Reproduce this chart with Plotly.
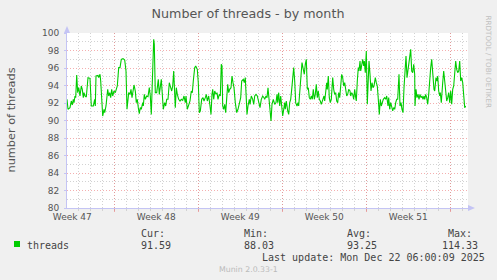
import pandas as pd
import plotly.graph_objects as go

# ---------------- data ----------------
START = pd.Timestamp("2025-11-19 01:24")
RANGE_HOURS = 802

hours_since_start = [
    0, 2, 6, 8.6, 10.6, 12.6, 14, 16, 17.4, 19.4, 21.4, 23.4, 24.6, 26, 28.6, 30.6, 32.6, 34, 36, 38.6,
    42, 46, 48.6, 52.6, 55.4, 56.6, 58, 62, 63.4, 66, 67.4, 68.6, 71.4, 74, 75.4, 78, 79.4, 81.4, 83.4,
    85.4, 87.4, 89.4, 91.4, 94, 96.6, 99.4, 100.6, 103.4, 106, 108.6, 112, 114,
    115.4, 118, 120, 123.4, 126, 128, 130, 134, 136.6, 138.6, 140.6, 142.6, 144.6, 146.6, 148.6, 151.4,
    152.6, 154.6, 156.6, 159.4, 162, 164.6, 166.6, 168.6, 170.6, 173.4, 174.6, 176.6, 179.4, 181.4,
    182.6, 184.6, 187.4, 188.6, 192.6, 195.4, 197.4, 199.4, 202, 204.6, 207.4, 209.4, 211.4, 213.4,
    216.6, 218.6, 220.6, 223.4, 226, 228.6,
    231.4, 234, 236.6, 238, 240.6, 243.4, 246, 248.6, 250.6, 252.6, 255.4, 257.4, 260.6, 262.6, 264.6,
    266.6, 269.4, 272, 274, 276.6, 278.6, 280.6, 283.4, 286, 288, 290, 291.4, 293.4, 295.4, 298, 300,
    302, 304.6, 306.6, 308.6, 310, 311.4, 313.4, 315.4, 317.4, 319.4, 321.4, 323.4, 325.4, 328, 330,
    332, 334, 336.6, 339.4, 342, 344.6,
    347.4, 349.4, 352.6, 354.6, 356.6, 358, 360, 362, 364.6, 366, 368.6, 371.4, 373.4, 375.4, 378,
    380.6, 383.4, 386, 388.6, 391.4, 394, 395.4, 398, 400, 402, 404, 406, 408, 410, 412.6, 415.4, 418,
    420, 421.4, 423.4, 425.4, 427.4, 429.4, 431.4, 433.4, 435.4, 436.6, 438.6, 441.4, 443.4, 445.4,
    447.4, 449.4, 451.4, 453.4, 455.4, 457.4, 460,
    462, 463.4, 465.4, 468, 470, 472.6, 474.6, 476.6, 478.6, 480.6, 482.6, 484.6, 486.6, 488.6, 490.6,
    492.6, 494.6, 496.6, 498.6, 500.6, 502.6, 504.6, 506.6, 508.6, 511.4, 514, 515.4, 517.4, 519.4,
    520.6, 522.6, 524.6, 526.6, 528.6, 531.4, 533.4, 535.4, 537.4, 539.4, 541.4, 543.4, 545.4, 547.4,
    549.4, 551.4, 553.4, 555.4, 557.4, 559.4, 561.4, 563.4, 566, 567.4, 569.4, 571.4, 573.4, 575.4, 577.4,
    578.6, 580.6, 582.6, 584, 586, 587.4, 588.6, 591.4, 593.4, 594.6, 596.6, 598.6, 600.6, 602.6, 604,
    606, 608, 610, 612, 614, 616.6, 618.6, 620.6, 622.6, 624.6, 626.6, 628.6, 630.6, 632.6, 635.4,
    637.4, 639.4, 642, 643.4, 645.4, 647.4, 649.4, 651.4, 653.4, 655.4, 657.4, 659.4, 661.4, 664, 666,
    668, 670, 672, 674, 676, 678, 680, 682, 684.6, 687.4, 689.4, 691.4, 693.4,
    695.4, 696, 698, 700, 702, 704, 706, 708, 710, 712, 714, 715.4, 717.4, 719.4, 721.4, 723.4, 725.4,
    727.4, 729.4, 731.4, 734, 735.4, 738, 740, 741.4, 743.4, 745.4, 746.6, 748.6, 751.4, 753.4, 755.4,
    757.4, 759.4, 761.4, 763.4, 765.4, 767.4, 769.4, 771.4, 773.4, 775.4, 777.4, 779.4, 781.4, 783.4,
    785.4, 787.4, 789.4, 791.4, 793.4, 795.4, 797.4,
]

threads = [
    92.42, 91.28, 91.47, 92.23, 91.77, 92.42, 92.04, 92.80, 92.61, 95.20, 93.18, 93.75, 93.37, 92.80,
    93.94, 93.56, 92.61, 93.18, 92.80, 92.69, 94.90, 94.82, 91.66, 91.66, 92.42, 91.66, 95.09, 95.16,
    94.90, 95.28, 94.51, 93.18, 90.51, 91.28, 90.90, 91.66, 92.23, 93.56, 92.80, 93.18, 92.61, 93.56,
    92.80, 93.37, 93.18, 93.56, 93.94, 96.04, 96.04, 96.99, 97.07, 96.99,
    96.91, 95.66, 91.28, 93.18, 92.99, 93.56, 92.61, 94.06, 93.37, 92.04, 92.42, 91.47, 90.78, 91.47,
    91.28, 92.04, 91.66, 92.99, 92.42, 92.80, 92.72, 93.75, 92.80, 90.70, 93.75, 99.28, 98.70, 93.18,
    93.18, 94.51, 94.70, 92.99, 94.51, 94.70, 91.28, 92.04, 91.66, 92.42, 92.42, 94.32, 93.75, 93.37,
    93.94, 95.66, 91.47, 93.75, 92.99, 92.42, 92.23, 92.42,
    92.30, 92.80, 92.04, 92.80, 91.28, 91.85, 92.23, 93.37, 93.18, 94.51, 96.04, 96.23, 95.85, 94.32,
    90.90, 91.09, 92.42, 92.61, 92.23, 92.61, 92.99, 92.23, 92.80, 91.66, 90.70, 92.99, 93.56, 92.42,
    93.37, 92.99, 93.18, 92.42, 92.99, 92.80, 96.42, 96.23, 91.66, 91.28, 91.85, 90.90, 92.61, 94.13,
    93.18, 93.56, 93.75, 95.09, 94.32, 93.75, 92.04, 90.90, 91.28, 92.04,
    92.61, 94.51, 94.70, 94.32, 94.90, 93.18, 90.70, 91.66, 92.42, 91.85, 92.80, 92.42, 91.85, 92.80,
    92.99, 92.80, 92.23, 91.47, 92.42, 92.80, 92.61, 92.42, 92.80, 92.61, 93.75, 92.61, 91.66, 89.94,
    91.85, 92.42, 91.85, 92.04, 92.99, 92.04, 93.18, 91.66, 92.80, 91.47, 90.51, 91.28, 92.04, 91.28,
    92.23, 91.09, 90.70, 92.04, 92.42, 93.56, 95.28, 96.04, 94.51, 92.04, 91.66,
    92.04, 91.66, 93.18, 95.09, 96.61, 95.85, 95.28, 96.42, 96.99, 93.56, 93.75, 92.61, 92.42, 92.80,
    92.42, 93.56, 92.42, 92.99, 94.13, 92.61, 93.37, 92.42, 92.23, 91.85, 92.42, 92.80, 92.23, 93.18,
    94.32, 93.56, 95.09, 92.61, 92.04, 92.42, 94.90, 93.56, 92.99, 93.18, 92.23, 92.04, 93.18, 92.61,
    93.75, 95.28, 94.90, 93.94, 94.32, 93.18, 92.80, 92.99, 93.56, 93.37, 92.80, 93.18, 92.99, 92.42,
    93.56, 92.61,
    92.23, 94.51, 96.04, 95.66, 96.80, 95.66, 96.04, 96.99, 96.23, 96.80, 95.47, 97.94, 91.85, 95.66,
    96.80, 95.28, 93.37, 94.32, 93.75, 93.94, 94.90, 94.32, 93.94, 92.42, 90.70, 92.42, 91.66, 92.04,
    92.42, 92.61, 92.42, 92.80, 91.66, 92.61, 91.28, 92.04, 91.47, 91.09, 91.47, 91.28, 92.04, 92.42,
    92.42, 95.28, 91.66, 92.04, 91.28, 90.90, 93.75, 96.23, 97.37, 94.90, 95.66, 96.80, 98.13, 95.66,
    95.47, 96.42,
    95.28, 91.66, 93.56, 92.61, 92.99, 92.42, 92.99, 92.61, 92.80, 92.42, 92.80, 92.42, 92.99, 92.61,
    91.85, 92.99, 94.90, 96.04, 96.99, 95.28, 93.56, 93.37, 94.90, 94.51, 95.09, 93.37, 92.80, 93.18,
    92.04, 94.32, 95.66, 94.51, 92.80, 92.23, 92.61, 93.18, 92.04, 93.37, 91.85, 93.56, 93.94, 95.47,
    96.80, 95.85, 95.47, 95.66, 96.80, 94.51, 94.90, 94.32, 92.04, 91.47, 91.66,
]

series_name = "threads"
stat_labels = ["Cur:", "Min:", "Avg:", "Max:"]
stat_values = ["91.59", "88.03", "93.25", "114.33"]
last_update = "Last update: Mon Dec 22 06:00:09 2025"
title_text = "Number of threads - by month"
y_title = "number of threads"
watermark = "RRDTOOL / TOBI OETIKER"
footer = "Munin 2.0.33-1"

# ---------------- figure ----------------
W, H = 497, 280
L, R, T, B = 67, 468, 33, 208  # plot area in pixels

def px_x(px):
    return (px - L) / (R - L)

def px_y(py):
    return (B - py) / (B - T)

times = START + pd.to_timedelta(hours_since_start, unit="h")
x_end = START + pd.Timedelta(hours=RANGE_HOURS)

GREEN = "#00cc00"
TXT = "#555555"
AXIS = "#c4c4f4"
MGRID = "rgba(235,110,110,0.55)"
GRID = "#d2d2d2"
DAY = 86400000
WEEK = 7 * DAY

fig = go.Figure()
fig.add_trace(go.Scatter(x=times, y=threads, mode="lines",
                         line=dict(color=GREEN, width=1.1), hoverinfo="skip",
                         showlegend=False))
fig.add_trace(go.Scatter(x=[], y=[], xaxis="x2", showlegend=False, hoverinfo="skip"))

fig.update_layout(
    width=W, height=H,
    margin=dict(l=L, r=W - R, t=T, b=H - B, pad=0),
    paper_bgcolor="#f0f0f0", plot_bgcolor="#ffffff",
    font=dict(family="DejaVu Sans", size=9, color=TXT),
    title=dict(text=title_text, x=0.499, xanchor="center", y=1 - 14 / H, yanchor="middle",
               font=dict(family="DejaVu Sans", size=12.7, color=TXT)),
    xaxis=dict(
        type="date", range=[START, x_end],
        tickmode="linear", tick0="2025-11-19 12:00:00", dtick=WEEK, tickformat="Week %V",
        showgrid=False, zeroline=False, ticks="",
        showline=True, linecolor=AXIS, linewidth=1,
        tickfont=dict(family="DejaVu Sans", size=9, color=TXT),
        minor=dict(tick0="2025-11-23", dtick=DAY, showgrid=True, gridcolor=GRID,
                   griddash="1px,2px", gridwidth=1, ticks="outside", ticklen=2, tickcolor=GRID),
    ),
    xaxis2=dict(
        type="date", range=[START, x_end], overlaying="x", anchor="y", side="bottom",
        tickmode="linear", tick0="2025-11-23", dtick=WEEK,
        showticklabels=False, showgrid=True, gridcolor=MGRID, griddash="1px,2px", gridwidth=1,
        ticks="outside", ticklen=3, tickcolor=MGRID, zeroline=False, showline=False,
    ),
    yaxis=dict(
        range=[80, 100], tickmode="linear", tick0=80, dtick=2,
        showgrid=True, gridcolor=MGRID, griddash="1px,2px", gridwidth=1,
        zeroline=False, showline=True, linecolor=AXIS, linewidth=1,
        ticks="outside", ticklen=2, tickcolor=AXIS, ticklabelstandoff=3,
        tickfont=dict(family="DejaVu Sans", size=9, color=TXT),
        minor=dict(dtick=1, showgrid=True, gridcolor=GRID, griddash="1px,2px", gridwidth=1),
    ),
)

# axis arrows
fig.add_shape(type="path", xref="paper", yref="paper", line=dict(width=0), fillcolor=AXIS,
              path=f"M {px_x(L-3)} {px_y(T)} L {px_x(L+3)} {px_y(T)} L {px_x(L)} {px_y(T-7)} Z")
fig.add_shape(type="path", xref="paper", yref="paper", line=dict(width=0), fillcolor=AXIS,
              path=f"M {px_x(R)} {px_y(B-3)} L {px_x(R)} {px_y(B+3)} L {px_x(R+7)} {px_y(B)} Z")

# legend swatch
fig.add_shape(type="rect", xref="paper", yref="paper", line=dict(width=0), fillcolor=GREEN,
              x0=px_x(14), x1=px_x(20), y0=px_y(247), y1=px_y(241))

MONO = dict(family="DejaVu Sans Mono", size=10, color="#444444")

def note(text, px, py, font, xanchor="left", angle=0):
    fig.add_annotation(text=text, x=px_x(px), y=px_y(py), xref="paper", yref="paper",
                       xanchor=xanchor, yanchor="middle", showarrow=False, font=font,
                       textangle=angle, borderpad=0)

note(series_name, 26, 245, MONO)
label_x = [140, 243, 345.5, 446.5]
value_x = [140, 243, 345.5, 440.5]
for lab, val, lx, vx in zip(stat_labels, stat_values, label_x, value_x):
    note(lab, lx, 233.5, MONO)
    note(val, vx, 245, MONO)
note(last_update, 260.5, 257.5, MONO)
note(footer, 248.5, 269.5, dict(family="DejaVu Sans", size=7.8, color="#bbbbbb"), xanchor="center")
note(y_title, 11, 120.5, dict(family="DejaVu Sans", size=11.3, color=TXT), xanchor="center", angle=-90)
note(watermark, 488, 61.5, dict(family="DejaVu Sans", size=7.2, color="#c0c0c0"), xanchor="center", angle=90)

fig.write_html("out.html")
